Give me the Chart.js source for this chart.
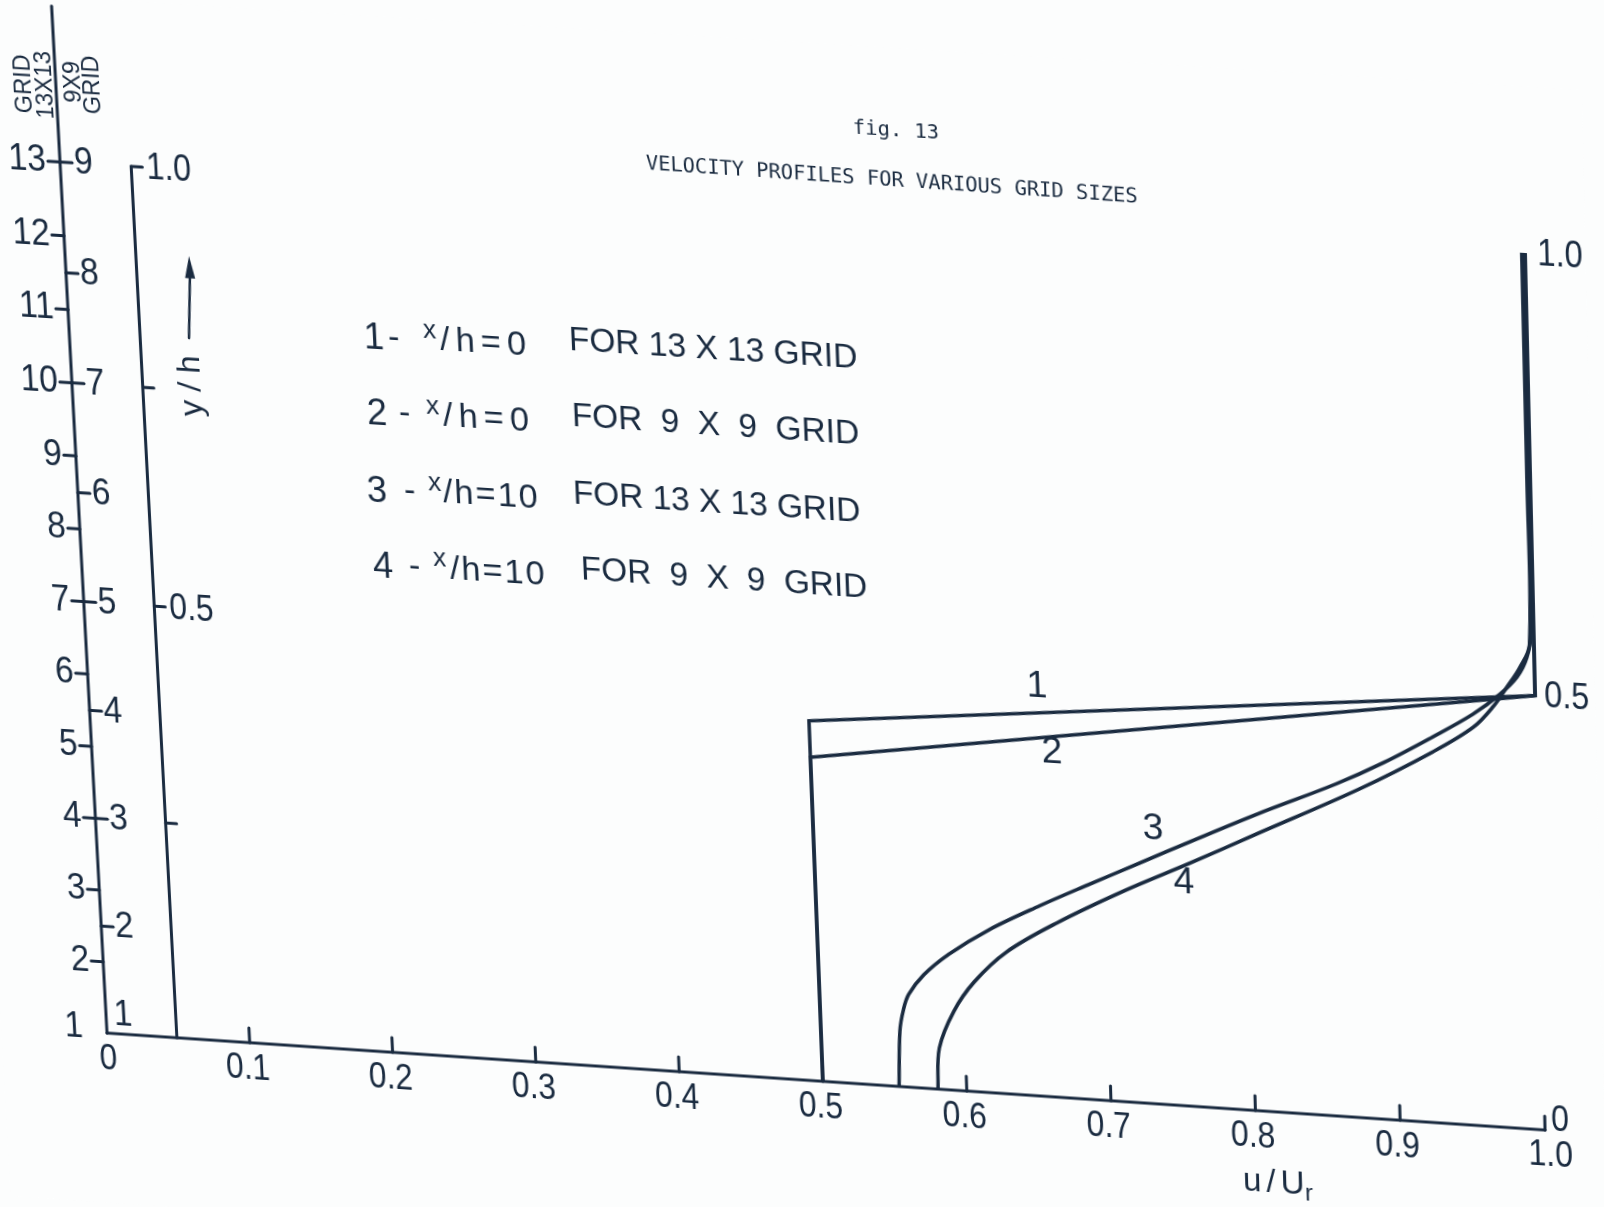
<!DOCTYPE html>
<html lang="en">
<head>
<meta charset="utf-8">
<title>fig. 13 - Velocity profiles for various grid sizes</title>
<script src="https://cdn.jsdelivr.net/npm/chart.js@4.4.1/dist/chart.umd.min.js"></script>
<style>
html, body { margin: 0; padding: 0; width: 1604px; height: 1207px; overflow: hidden; background: #fcfdfd; }
#fig13 { position: absolute; left: 0; top: 0; transform-origin: 0 0; }
</style>
</head>
<body>
<canvas id="fig13" width="1604" height="1207"></canvas>
<script>
(function() {
    'use strict';

    // grid point numbers on the two left-hand scales
    var grid13 = [1, 2, 3, 4, 5, 6, 7, 8, 9, 10, 11, 12, 13];
    var grid9 = [1, 2, 3, 4, 5, 6, 7, 8, 9];

    // u/Ur axis
    var uTicks = [0.1, 0.2, 0.3, 0.4, 0.5, 0.6, 0.7, 0.8, 0.9];
    var uTickLabels = ['0.1', '0.2', '0.3', '0.4', '0.5', '0.6', '0.7', '0.8', '0.9'];

    // y/h axis, only 0.5 and 1.0 are lettered
    var yhTicks = [0.25, 0.5, 0.75, 1.0];
    var yhTickLabels = ['', '0.5', '', '1.0'];

    // 1 - x/h=0 for 13 x 13 grid
    var prof1U = [0.5, 0.5, 1.0, 1.0];
    var prof1V = [0, 0.417, 0.5, 1.0];
    // 2 - x/h=0 for 9 x 9 grid
    var prof2U = [0.5, 0.5, 1.0, 1.0];
    var prof2V = [0, 0.375, 0.5, 1.0];
    // 3 - x/h=10 for 13 x 13 grid
    var prof3U = [0.553, 0.555, 0.558, 0.562, 0.573, 0.591, 0.619, 0.655, 0.689, 0.725, 0.761, 0.808, 0.862, 0.895, 0.929, 0.957, 0.976, 0.988, 0.995, 0.998, 0.998, 0.998];
    var prof3V = [0, 0.065, 0.090, 0.108, 0.132, 0.158, 0.189, 0.221, 0.249, 0.278, 0.307, 0.344, 0.384, 0.412, 0.445, 0.474, 0.499, 0.520, 0.543, 0.570, 0.750, 1.0];
    // 4 - x/h=10 for 9 x 9 grid
    var prof4U = [0.580, 0.582, 0.593, 0.608, 0.631, 0.667, 0.714, 0.760, 0.807, 0.878, 0.929, 0.957, 0.971, 0.981, 0.990, 0.997, 0.998, 0.998];
    var prof4V = [0, 0.048, 0.092, 0.128, 0.165, 0.203, 0.245, 0.282, 0.321, 0.380, 0.428, 0.459, 0.484, 0.508, 0.531, 0.558, 0.750, 1.0];

    var legendNums = ['1', '2', '3', '4'];
    var legendXh = ['0', '0', '10', '10'];
    var legendGrids = ['13 X 13', '9 X 9', '13 X 13', '9 X 9'];

    var INK = '#1a2b40';
    var PAPER = '#fcfdfd';
    var HAND = '"Liberation Sans", Arial, sans-serif';
    var TYPE = '"DejaVu Sans Mono", "Liberation Mono", monospace';

    // the scan is skewed: where (u,v) = (0,0) (1,0) (0,1) (1,1) land on the sheet
    var sheetCorners = [[107, 1033], [1545, 1130], [60, 162], [1525, 253]];
    var YH_AXIS_U = 0.049;

    // sheet positions of the hand lettering: number, dash, x, "/h", "FOR" (x) and middle y
    var legendAt = [
        [364, 388, 423, 440, 569, 338],
        [367, 399, 426, 443, 572, 414],
        [367, 404, 428, 443, 573, 491],
        [373, 409, 433, 450, 581, 567]
    ];
    var legendSpacing = [['6px', '0px'], ['6px', '9px'], ['2px', '0px'], ['2px', '9px']];
    var curveNumAt = [[1037, 687], [1052, 753], [1153, 829], [1184, 883]];

    function solveHomography(src, dst) {
        var A = [], b = [], i, r, c, k;
        for (i = 0; i < 4; i++) {
            var x = src[i][0], y = src[i][1], X = dst[i][0], Y = dst[i][1];
            A.push([x, y, 1, 0, 0, 0, -x * X, -y * X]); b.push(X);
            A.push([0, 0, 0, x, y, 1, -x * Y, -y * Y]); b.push(Y);
        }
        for (c = 0; c < 8; c++) {
            var p = c;
            for (r = c + 1; r < 8; r++) if (Math.abs(A[r][c]) > Math.abs(A[p][c])) p = r;
            var tr = A[c]; A[c] = A[p]; A[p] = tr;
            var tb = b[c]; b[c] = b[p]; b[p] = tb;
            for (r = 0; r < 8; r++) {
                if (r === c) continue;
                var f = A[r][c] / A[c][c];
                for (k = c; k < 8; k++) A[r][k] -= f * A[c][k];
                b[r] -= f * b[c];
            }
        }
        var h = b.map(function(v, j) { return v / A[j][j]; });
        return [[h[0], h[1], h[2]], [h[3], h[4], h[5]], [h[6], h[7], 1]];
    }

    function invert3(m) {
        var a = m[0][0], b = m[0][1], c = m[0][2], d = m[1][0], e = m[1][1], f = m[1][2], g = m[2][0], h = m[2][1], i = m[2][2];
        var A = e * i - f * h, B = -(d * i - f * g), C = d * h - e * g;
        var det = a * A + b * B + c * C;
        return [[A / det, -(b * i - c * h) / det, (b * f - c * e) / det],
                [B / det, (a * i - c * g) / det, -(a * f - c * d) / det],
                [C / det, -(a * h - b * g) / det, (a * e - b * d) / det]];
    }

    function applyH(H, x, y) {
        var w = H[2][0] * x + H[2][1] * y + H[2][2];
        return [(H[0][0] * x + H[0][1] * y + H[0][2]) / w, (H[1][0] * x + H[1][1] * y + H[1][2]) / w];
    }

    function seg(ctx, x1, y1, x2, y2) {
        ctx.beginPath();
        ctx.moveTo(x1, y1);
        ctx.lineTo(x2, y2);
        ctx.stroke();
    }

    function say(ctx, s, x, y, o) {
        o = o || {};
        ctx.save();
        ctx.translate(x, y);
        if (o.rot) ctx.rotate(o.rot);
        ctx.scale(o.sx || 1, 1);
        ctx.font = o.font || ('36px ' + HAND);
        ctx.textAlign = o.align || 'center';
        ctx.textBaseline = 'middle';
        if (o.spacing) ctx.letterSpacing = o.spacing;
        if (o.words) ctx.wordSpacing = o.words;
        ctx.fillStyle = INK;
        ctx.fillText(s, 0, 0);
        ctx.restore();
    }

    function pts(us, vs) {
        return us.map(function(u, i) { return {x: u, y: vs[i]}; });
    }

    var sheetPlugin = {
        id: 'sheet',
        beforeDraw: function(chart) {
            var xs = chart.scales.x, ys = chart.scales.y;
            var src = [
                [xs.getPixelForValue(0), ys.getPixelForValue(0)],
                [xs.getPixelForValue(1), ys.getPixelForValue(0)],
                [xs.getPixelForValue(0), ys.getPixelForValue(1)],
                [xs.getPixelForValue(1), ys.getPixelForValue(1)]
            ];
            var H = solveHomography(src, sheetCorners);
            chart.$unwarp = invert3(H);
            chart.canvas.style.transform = 'matrix3d(' + [
                H[0][0], H[1][0], 0, H[2][0],
                H[0][1], H[1][1], 0, H[2][1],
                0, 0, 1, 0,
                H[0][2], H[1][2], 0, H[2][2]
            ].join(',') + ')';
            var ctx = chart.ctx;
            ctx.save();
            ctx.fillStyle = PAPER;
            ctx.fillRect(0, 0, chart.width, chart.height);
            ctx.restore();
        },
        afterDatasetsDraw: function(chart) {
            var ctx = chart.ctx;
            var xs = chart.scales.x, ys = chart.scales.y, g13 = chart.scales.g13, g9 = chart.scales.g9;
            var back = function(p) { return applyH(chart.$unwarp, p[0], p[1]); };
            var x0 = xs.getPixelForValue(0), y0 = ys.getPixelForValue(0), x1 = xs.getPixelForValue(1);
            var axisFont = '37px ' + HAND;

            ctx.save();
            ctx.strokeStyle = INK;
            ctx.lineWidth = 3;
            ctx.lineCap = 'round';
            ctx.lineJoin = 'round';

            // u/Ur axis
            seg(ctx, x0, y0, x1, y0);
            uTicks.forEach(function(t, i) {
                var x = xs.getPixelForValue(t);
                seg(ctx, x, y0, x, y0 - 15);
                say(ctx, uTickLabels[i], x - 3, y0 + 27, {font: axisFont, sx: 0.86});
            });
            seg(ctx, x1, y0, x1, y0 - 14);
            say(ctx, '0', x1 + 15, y0 - 10, {font: axisFont, sx: 0.86});
            say(ctx, '1.0', x1 + 5, y0 + 26, {font: axisFont, sx: 0.86});
            say(ctx, '0', x0, y0 + 27, {font: axisFont, sx: 0.86});

            // grid point scales share one line
            seg(ctx, x0, y0, x0, ys.getPixelForValue(1.175));
            grid13.forEach(function(g) {
                var y = g13.getPixelForValue(g);
                if (g > 1) {
                    seg(ctx, x0 - 12, y, x0, y);
                    say(ctx, String(g), x0 - 14, y, {font: axisFont, align: 'right', sx: 0.9});
                } else {
                    say(ctx, String(g), x0 - 24, y - 4, {font: axisFont, align: 'right', sx: 0.9});
                }
            });
            grid9.forEach(function(g) {
                var y = g9.getPixelForValue(g);
                if (g > 1) {
                    seg(ctx, x0, y, x0 + 12, y);
                    say(ctx, String(g), x0 + 14, y, {font: axisFont, align: 'left', sx: 0.9});
                } else {
                    say(ctx, String(g), x0 + 8, y - 19, {font: axisFont, align: 'left', sx: 0.9});
                }
            });

            // y/h scale
            var xh = xs.getPixelForValue(YH_AXIS_U);
            seg(ctx, xh, y0, xh, ys.getPixelForValue(1));
            yhTicks.forEach(function(t, i) {
                var y = ys.getPixelForValue(t);
                seg(ctx, xh, y, xh + 11, y);
                if (yhTickLabels[i]) say(ctx, yhTickLabels[i], xh + 15, y + 1, {font: axisFont, align: 'left', sx: 0.86});
            });

            // right-hand end values of the profiles
            say(ctx, '1.0', x1 + 12, ys.getPixelForValue(1) + 1, {font: axisFont, align: 'left', sx: 0.86});
            say(ctx, '0.5', x1 + 9, ys.getPixelForValue(0.5), {font: axisFont, align: 'left', sx: 0.86});

            // axis titles
            var ut = back([1243, 1181]);
            say(ctx, 'u/U', ut[0], ut[1], {font: '33px ' + HAND, align: 'left', spacing: '5px'});
            var ur = back([1305, 1194]);
            say(ctx, 'r', ur[0], ur[1], {font: '24px ' + HAND, align: 'left'});

            var yt = back([192, 386]);
            say(ctx, 'y / h', yt[0], yt[1], {font: '32px ' + HAND, rot: -Math.PI / 2});
            var ab = back([189, 338]), at = back([189, 256]);
            ctx.lineWidth = 2.5;
            seg(ctx, ab[0], ab[1], at[0], at[1] + 18);
            ctx.beginPath();
            ctx.moveTo(at[0], at[1]);
            ctx.lineTo(at[0] - 5, at[1] + 22);
            ctx.lineTo(at[0] + 5, at[1] + 22);
            ctx.closePath();
            ctx.fillStyle = INK;
            ctx.fill();

            // grid captions above the left scale
            [['GRID', 24, 84], ['13X13', 45, 85], ['9X9', 73, 82], ['GRID', 93, 85]].forEach(function(c) {
                var p = back([c[1], c[2]]);
                say(ctx, c[0], p[0], p[1], {font: '23px ' + HAND, rot: -Math.PI / 2});
            });

            // title
            var ft = back([896, 131]);
            say(ctx, 'fig. 13', ft[0], ft[1], {font: '20px ' + TYPE});
            var tt = back([646, 164]);
            say(ctx, 'VELOCITY PROFILES FOR VARIOUS GRID SIZES', tt[0], tt[1], {font: '20px ' + TYPE, align: 'left', rot: 0.006});

            // legend lettering
            legendAt.forEach(function(a, i) {
                var y = a[5];
                var pn = back([a[0], y]), pd = back([a[1], y]), px = back([a[2], y - 8]);
                var ps = back([a[3], y + 2]), pf = back([a[4], y + 3]);
                say(ctx, legendNums[i], pn[0], pn[1], {font: '36px ' + HAND, align: 'left'});
                say(ctx, '-', pd[0], pd[1], {font: '34px ' + HAND, align: 'left'});
                say(ctx, 'x', px[0], px[1], {font: '26px ' + HAND, align: 'left'});
                say(ctx, '/h=' + legendXh[i], ps[0], ps[1], {font: '34px ' + HAND, align: 'left', spacing: legendSpacing[i][0]});
                say(ctx, 'FOR ' + legendGrids[i] + ' GRID', pf[0], pf[1], {font: '33px ' + HAND, align: 'left', words: legendSpacing[i][1]});
            });

            // profile numbers
            curveNumAt.forEach(function(a, i) {
                var p = back(a);
                say(ctx, legendNums[i], p[0], p[1], {font: '37px ' + HAND});
            });
            ctx.restore();
        }
    };

    var lineStyle = {borderColor: INK, borderWidth: 3.5, pointRadius: 0, fill: false, clip: false};
    var profiles = [
        {label: '1 - x/h=0 FOR 13 X 13 GRID', data: pts(prof1U, prof1V), tension: 0},
        {label: '2 - x/h=0 FOR 9 X 9 GRID', data: pts(prof2U, prof2V), tension: 0},
        {label: '3 - x/h=10 FOR 13 X 13 GRID', data: pts(prof3U, prof3V), tension: 0.35},
        {label: '4 - x/h=10 FOR 9 X 9 GRID', data: pts(prof4U, prof4V), tension: 0.35}
    ].map(function(d) { return Object.assign({}, lineStyle, d); });

    var canvas = document.getElementById('fig13');
    new Chart(canvas.getContext('2d'), {
        type: 'scatter',
        data: {datasets: profiles},
        options: {
            showLine: true,
            responsive: false,
            animation: false,
            devicePixelRatio: 1,
            layout: {padding: {left: 107, right: 59, top: 162, bottom: 174}},
            plugins: {legend: {display: false}, tooltip: {enabled: false}},
            scales: {
                x: {type: 'linear', min: 0, max: 1, display: false},
                y: {type: 'linear', min: 0, max: 1, display: false},
                g13: {type: 'linear', axis: 'y', min: 1, max: 13, display: false},
                g9: {type: 'linear', axis: 'y', min: 1, max: 9, display: false}
            }
        },
        plugins: [sheetPlugin]
    });
})();
</script>
</body>
</html>
